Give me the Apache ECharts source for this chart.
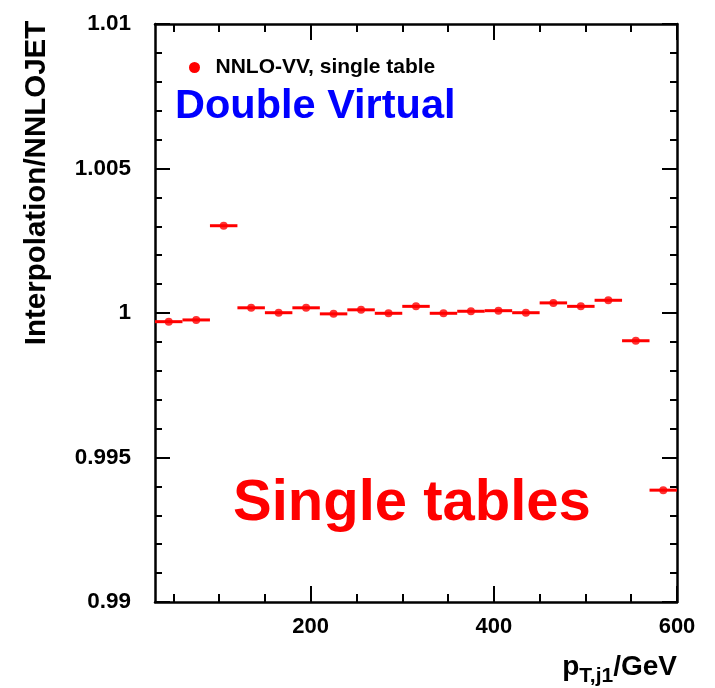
<!DOCTYPE html>
<html>
<head>
<meta charset="utf-8">
<script src="https://cdn.jsdelivr.net/npm/echarts@6/dist/echarts.min.js"></script>
<style>
  html, body { margin: 0; padding: 0; background: #ffffff; }
  #chart { width: 715px; height: 688px; }
</style>
</head>
<body>
<div id="chart"></div>
<script>
// Leading-jet pT bins (GeV) and interpolation / NNLOJET ratio per bin
const binEdges = [30, 60, 90, 120, 150, 180, 210, 240, 270, 300, 330,
                  360, 390, 420, 450, 480, 510, 540, 570, 600];
const ratio = [0.99970, 0.99976, 1.00302, 1.00018, 1.00001, 1.00018, 0.99997,
               1.00011, 0.99999, 1.00023, 0.99999, 1.00006, 1.00008, 1.00001,
               1.00035, 1.00023, 1.00044, 0.99904, 0.99387];

const xMajorTicks = [200, 400, 600];
const xMinorTicks = [50, 100, 150, 250, 300, 350, 450, 500, 550];
const xLabels = [200, 400, 600];

const seriesName = 'NNLO-VV, single table';
const FONT = "'Liberation Sans', Arial, Helvetica, sans-serif";
const RED = '#ff0000';

const bins = ratio.map((v, i) => [binEdges[i], binEdges[i + 1], v]);
const points = ratio.map((v, i) => [(binEdges[i] + binEdges[i + 1]) / 2, v]);

const chart = echarts.init(document.getElementById('chart'), null, { renderer: 'canvas' });

const frame = { show: true, lineStyle: { color: '#000', width: 2.5 } };
const noLine = { show: false };

function xAxisDef(position, ticks, len, withLine, withLabels) {
  return {
    type: 'value', min: 30, max: 600, position: position,
    axisLine: withLine ? frame : noLine,
    axisTick: { show: true, inside: true, length: len, customValues: ticks,
                lineStyle: { color: '#000', width: 2 } },
    axisLabel: withLabels
      ? { show: true, customValues: xLabels, margin: 14, color: '#000',
          fontFamily: FONT, fontWeight: 'bold', fontSize: 22 }
      : { show: false },
    splitLine: { show: false }
  };
}

function yAxisDef(position, withLabels) {
  return {
    type: 'value', min: 0.99, max: 1.01, interval: 0.005, position: position,
    axisLine: frame,
    axisTick: { show: true, inside: true, length: 15, lineStyle: { color: '#000', width: 2 } },
    minorTick: { show: true, splitNumber: 5, length: 7, lineStyle: { color: '#000', width: 2 } },
    axisLabel: withLabels
      ? { show: true, margin: 24, color: '#000', fontFamily: FONT,
          fontWeight: 'bold', fontSize: 22.5 }
      : { show: false },
    splitLine: { show: false },
    minorSplitLine: { show: false }
  };
}

chart.setOption({
  backgroundColor: '#ffffff',
  animation: false,
  grid: { left: 155, right: 38, top: 24, bottom: 86, containLabel: false },
  xAxis: [
    xAxisDef('bottom', xMajorTicks, 16, true, true),
    xAxisDef('bottom', xMinorTicks, 8, false, false),
    xAxisDef('top', xMajorTicks, 16, true, false),
    xAxisDef('top', xMinorTicks, 8, false, false)
  ],
  yAxis: [ yAxisDef('left', true), yAxisDef('right', false) ],
  legend: {
    show: true, left: 189, top: 57, padding: 0,
    itemWidth: 16, itemHeight: 11,
    data: [{ name: seriesName, icon: 'circle' }],
    textStyle: { color: '#000', fontFamily: FONT, fontWeight: 'bold', fontSize: 21,
                 padding: [0, 0, 0, 8] },
    selectedMode: false
  },
  series: [
    {
      name: seriesName, type: 'custom', xAxisIndex: 0, yAxisIndex: 0,
      data: bins, encode: { x: [0, 1], y: 2 },
      itemStyle: { color: RED },
      renderItem: function (params, api) {
        const a = api.coord([api.value(0), api.value(2)]);
        const b = api.coord([api.value(1), api.value(2)]);
        return {
          type: 'line',
          shape: { x1: a[0], y1: a[1], x2: b[0], y2: b[1] },
          style: { stroke: RED, lineWidth: 3 }
        };
      }
    },
    {
      name: seriesName, type: 'scatter', xAxisIndex: 0, yAxisIndex: 0,
      data: points, symbol: 'circle', symbolSize: 8,
      itemStyle: { color: RED }
    }
  ],
  graphic: [
    {
      type: 'text', x: 37, y: 183, rotation: Math.PI / 2,
      style: { text: 'Interpolation/NNLOJET', fill: '#000', font: 'bold 29.5px ' + FONT,
               align: 'center', verticalAlign: 'middle' }
    },
    {
      type: 'text', x: 677, y: 667,
      style: {
        text: '{m|p}{s|T,j1}{m|/GeV}', align: 'right', verticalAlign: 'middle',
        rich: {
          m: { fontFamily: FONT, fontWeight: 'bold', fontSize: 28, lineHeight: 40, fill: '#000', color: '#000' },
          s: { fontFamily: FONT, fontWeight: 'bold', fontSize: 21, lineHeight: 18,
               verticalAlign: 'bottom', fill: '#000', color: '#000' }
        }
      }
    },
    {
      type: 'text', x: 175, y: 107,
      style: { text: 'Double Virtual', fill: '#0000ff', font: 'bold 41.5px ' + FONT,
               align: 'left', verticalAlign: 'middle' }
    },
    {
      type: 'text', x: 233, y: 504,
      style: { text: 'Single tables', fill: RED, font: 'bold 58px ' + FONT,
               align: 'left', verticalAlign: 'middle' }
    }
  ]
});
</script>
</body>
</html>
